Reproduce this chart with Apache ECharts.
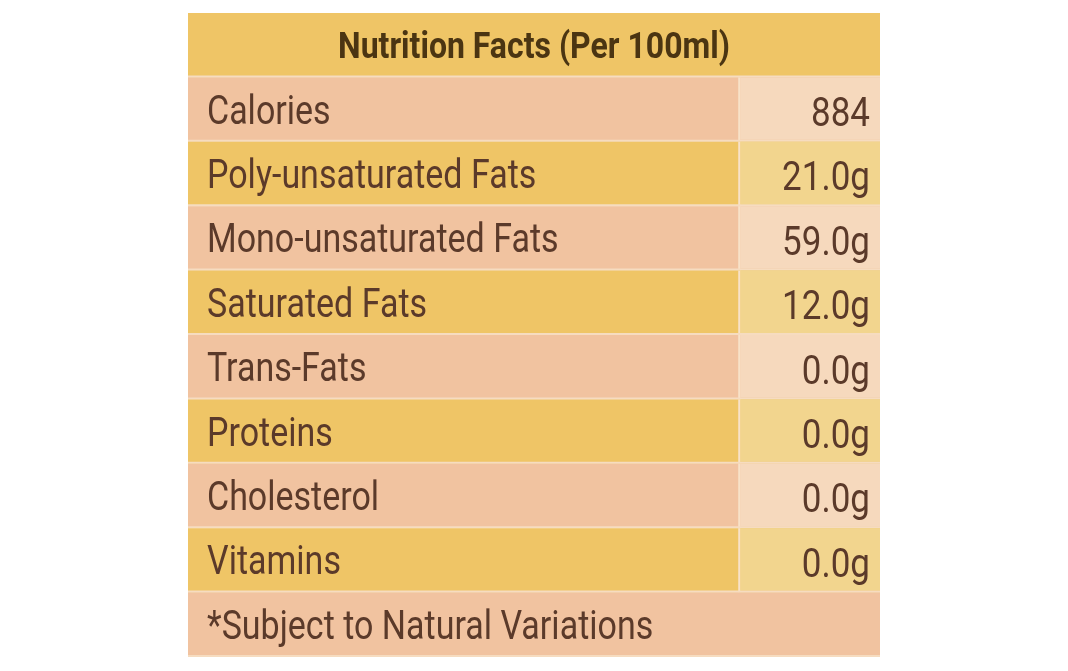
<!DOCTYPE html>
<html><head><meta charset="utf-8">
<script src="https://cdn.jsdelivr.net/npm/echarts@6/dist/echarts.min.js"></script>
<style>html,body{margin:0;background:#fff}#c{width:1068px;height:671px}</style>
</head><body><div id="c"></div>
<script>
const title = 'Nutrition Facts (Per 100ml)';
const nutrients = ['Calories','Poly-unsaturated Fats','Mono-unsaturated Fats','Saturated Fats','Trans-Fats','Proteins','Cholesterol','Vitamins'];
const amounts = ['884','21.0g','59.0g','12.0g','0.0g','0.0g','0.0g','0.0g'];
const footnote = '*Subject to Natural Variations';

const rows = [title].concat(nutrients).concat([footnote]);
const FONT = '"Liberation Sans Narrow", "Roboto", sans-serif';
const chart = echarts.init(document.getElementById('c'));
const split = 0.798;
chart.setOption({
  animation:false,
  grid:{left:188,right:188,top:13,bottom:14},
  xAxis:{type:'value',min:0,max:1,show:false},
  yAxis:{type:'category',data:rows,inverse:true,show:false},
  series:[{
    type:'custom',
    data:rows.map((r,i)=>[0,i]),
    renderItem:function(params,api){
      const i=api.value(1);
      const h=api.size([0,1])[1];
      const p0=api.coord([0,i]); const p1=api.coord([1,i]); const ps=api.coord([split,i]);
      const top=p0[1]-h/2;
      const children=[];
      const isHeader=i===0, isFoot=i===rows.length-1;
      const yellow = isHeader || (i%2===0);
      const base = yellow ? '#efc566' : '#f1c3a0';
      children.push({type:'rect',shape:{x:p0[0],y:top,width:p1[0]-p0[0],height:h},style:{fill:base}});
      if(!isHeader && !isFoot){
        children.push({type:'rect',shape:{x:ps[0],y:top,width:p1[0]-ps[0],height:h-2},style:{fill: yellow?'#f2d58e':'#f6d9bd'}});
        children.push({type:'rect',shape:{x:ps[0]-2,y:top,width:2,height:h},style:{fill:'#f8e2c8'}});
      }
      children.push({type:'rect',shape:{x:p0[0],y:top+h-2,width:p1[0]-p0[0],height:2},style:{fill:'#f6dcc0'}});
      if(isHeader){
        children.push({type:'text',x:(p0[0]+p1[0])/2,y:p0[1]+4,scaleY:1.15,style:{x:0,y:0,text:rows[i],fill:'#4b3512',font:'bold 32px '+FONT,align:'center',verticalAlign:'middle'}});
      } else {
        children.push({type:'text',x:p0[0]+19,y:p0[1]+4,scaleY:1.18,style:{x:0,y:0,text:rows[i],fill:'#5b3a2a',font:'34px '+FONT,align:'left',verticalAlign:'middle'}});
        if(!isFoot){
          children.push({type:'text',x:p1[0]-10,y:p0[1]+6,scaleY:1.18,style:{x:0,y:0,text:amounts[i-1],fill:'#5b3a2a',font:'35px '+FONT,align:'right',verticalAlign:'middle'}});
        }
      }
      return {type:'group',children};
    }
  }]
});
</script></body></html>
